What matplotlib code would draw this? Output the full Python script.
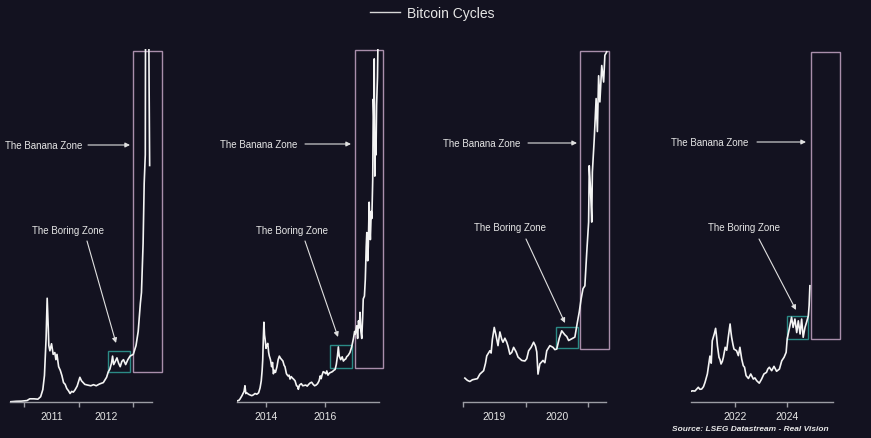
import matplotlib.pyplot as plt
from matplotlib.patches import Rectangle

plt.rcParams['font.family'] = ['Liberation Sans', 'DejaVu Sans']

# ---- data (decimal year, USD) ----
p1_years = [2010.74, 2010.85, 2010.95, 2011.05, 2011.10, 2011.18, 2011.25, 2011.30, 2011.34, 2011.37,
            2011.40, 2011.42, 2011.44, 2011.45, 2011.47, 2011.50, 2011.53, 2011.56, 2011.58, 2011.60,
            2011.63, 2011.66, 2011.69, 2011.72, 2011.75, 2011.78, 2011.81, 2011.84, 2011.87, 2011.90,
            2011.93, 2011.97, 2012.02, 2012.05, 2012.08, 2012.11, 2012.16, 2012.22, 2012.27, 2012.32,
            2012.38, 2012.45, 2012.49, 2012.51, 2012.54, 2012.57, 2012.60, 2012.62, 2012.64, 2012.67,
            2012.70, 2012.73, 2012.76, 2012.79, 2012.82, 2012.86, 2012.90, 2012.94, 2013.00, 2013.05,
            2013.09, 2013.13, 2013.15, 2013.18, 2013.20, 2013.22, 2013.23, 2013.25, 2013.27, 2013.29,
            2013.30]
p1_prices = [0.06, 0.2, 0.25, 0.4, 0.9, 0.9, 0.8, 1.5, 3.5, 7.5,
             18, 29.4, 21, 16, 14.5, 16.5, 13.5, 14, 12, 13.5,
             10, 9, 7.5, 5.5, 5, 3.8, 3.2, 2.4, 3.0, 2.8,
             3.4, 4.5, 7, 6.0, 5.5, 5, 4.8, 4.6, 4.9, 4.6,
             5.1, 5.5, 6.5, 7, 8.5, 9.3, 11, 13, 10.6, 11.5,
             12.5, 11, 10, 11.5, 12, 10.6, 12, 13, 13.5, 16,
             20, 28, 31, 45, 62, 70, 150, 120, 150, 90,
             67]

p2_years = [2013.04, 2013.10, 2013.13, 2013.20, 2013.27, 2013.30, 2013.33, 2013.36, 2013.42, 2013.47,
            2013.53, 2013.58, 2013.64, 2013.70, 2013.76, 2013.81, 2013.85, 2013.88, 2013.90, 2013.92,
            2013.94, 2013.96, 2013.98, 2014.01, 2014.03, 2014.07, 2014.10, 2014.12, 2014.16, 2014.20,
            2014.23, 2014.26, 2014.29, 2014.33, 2014.38, 2014.42, 2014.46, 2014.50, 2014.54, 2014.58,
            2014.62, 2014.65, 2014.70, 2014.75, 2014.79, 2014.82, 2014.86, 2014.90, 2014.95, 2014.99,
            2015.04, 2015.08, 2015.10, 2015.14, 2015.20, 2015.25, 2015.30, 2015.35, 2015.40, 2015.45,
            2015.50, 2015.55, 2015.60, 2015.65, 2015.70, 2015.75, 2015.80, 2015.84, 2015.87, 2015.90,
            2015.94, 2015.98, 2016.03, 2016.06, 2016.10, 2016.15, 2016.20, 2016.25, 2016.30, 2016.34,
            2016.38, 2016.42, 2016.45, 2016.48, 2016.53, 2016.58, 2016.62, 2016.66, 2016.70, 2016.73,
            2016.78, 2016.84, 2016.90, 2016.96, 2017.00, 2017.02, 2017.07, 2017.10, 2017.13, 2017.16,
            2017.18, 2017.21, 2017.24, 2017.27, 2017.29, 2017.33, 2017.36, 2017.39, 2017.41, 2017.44,
            2017.46, 2017.49, 2017.51, 2017.53, 2017.56, 2017.58, 2017.61, 2017.63, 2017.65, 2017.66,
            2017.68, 2017.70, 2017.72, 2017.74, 2017.77, 2017.80]
p2_prices = [15, 25, 40, 90, 150, 230, 120, 130, 110, 100,
             90, 100, 120, 110, 130, 200, 300, 450, 600, 900,
             1130, 950, 890, 760, 800, 830, 700, 655, 600, 500,
             560, 400, 450, 420, 500, 600, 650, 620, 600, 580,
             520, 500, 400, 370, 380, 325, 360, 340, 320, 300,
             230, 220, 180, 240, 260, 230, 235, 240, 225, 250,
             270, 280, 250, 230, 240, 260, 300, 370, 330, 380,
             430, 420, 400, 440, 380, 410, 420, 430, 450, 460,
             530, 650, 780, 650, 600, 640, 580, 600, 610, 640,
             660, 700, 780, 900, 1000, 960, 1080, 900, 1150, 1050,
             1270, 1000, 900, 1200, 1460, 1500, 1740, 2200, 2400, 2000,
             2200, 2830, 2500, 2300, 2700, 2600, 3160, 4290, 4000, 4860,
             3200, 3800, 3500, 4200, 4600, 5500]

p3_years = [2019.03, 2019.07, 2019.11, 2019.15, 2019.19, 2019.23, 2019.27, 2019.33, 2019.36, 2019.38,
            2019.43, 2019.45, 2019.47, 2019.50, 2019.53, 2019.56, 2019.59, 2019.62, 2019.64, 2019.67,
            2019.70, 2019.72, 2019.75, 2019.78, 2019.81, 2019.85, 2019.88, 2019.91, 2019.94, 2019.99,
            2020.02, 2020.05, 2020.09, 2020.13, 2020.16, 2020.18, 2020.20, 2020.23, 2020.28, 2020.31,
            2020.34, 2020.39, 2020.44, 2020.47, 2020.50, 2020.54, 2020.58, 2020.63, 2020.66, 2020.69,
            2020.74, 2020.79, 2020.83, 2020.86, 2020.89, 2020.92, 2020.95, 2020.98, 2021.01, 2021.02,
            2021.04, 2021.06, 2021.07, 2021.10, 2021.13, 2021.15, 2021.17, 2021.19, 2021.22, 2021.25,
            2021.27, 2021.30]
p3_prices = [4200, 3800, 3600, 3900, 4000, 4100, 4900, 5500, 6800, 8100,
             9000, 8600, 11000, 13100, 11600, 9900, 12300, 11000, 10500, 11200,
             10500, 9800, 8400, 8700, 9600, 8800, 7900, 7600, 7300, 7200,
             7600, 9000, 9600, 10500, 9800, 8800, 4900, 6700, 7300, 6900,
             9000, 9900, 9600, 9200, 9300, 11200, 12500, 11800, 11500, 10800,
             11100, 11400, 14000, 15800, 18100, 19900, 20400, 26300, 31600, 41500,
             37400, 31600, 40400, 46200, 53300, 47500, 57300, 52700, 59100, 56200,
             60900, 61500]

p4_years = [2020.30, 2020.35, 2020.45, 2020.58, 2020.64, 2020.71, 2020.78, 2020.84, 2020.93, 2021.03,
            2021.08, 2021.12, 2021.20, 2021.25, 2021.29, 2021.32, 2021.38, 2021.42, 2021.46, 2021.51,
            2021.55, 2021.62, 2021.68, 2021.74, 2021.81, 2021.84, 2021.87, 2021.92, 2021.96, 2022.06,
            2022.13, 2022.19, 2022.26, 2022.32, 2022.37, 2022.43, 2022.52, 2022.61, 2022.71, 2022.77,
            2022.84, 2022.94, 2023.03, 2023.12, 2023.22, 2023.27, 2023.33, 2023.42, 2023.51, 2023.61,
            2023.72, 2023.81, 2023.90, 2023.98, 2024.02, 2024.10, 2024.19, 2024.25, 2024.32, 2024.39,
            2024.45, 2024.52, 2024.58, 2024.64, 2024.71, 2024.77, 2024.84, 2024.87, 2024.90]
p4_prices = [9100, 9500, 9300, 12500, 10800, 11000, 13000, 16700, 23800, 39000,
             33000, 52000, 58000, 62600, 55000, 47800, 38000, 36000, 32300, 34500,
             38000, 46500, 44000, 55000, 66300, 60000, 55000, 49000, 45000, 43600,
             39400, 46500, 36500, 30900, 29500, 22400, 20000, 23800, 19500, 20500,
             18100, 16000, 19500, 23800, 25200, 28000, 29500, 26600, 30300, 26100,
             28000, 35000, 38000, 42200, 53500, 62000, 72000, 63400, 70500, 59000,
             69000, 57800, 70500, 55000, 63400, 67700, 73300, 82000, 98800]

# zone boxes: (year start, year end, price low, price high)
boring_boxes = [(2012.536, 2012.94, 8.5, 14.4),
                (2016.17, 2016.91, 482, 807),
                (2020.488, 2020.84, 9480, 13170),
                (2024.013, 2024.826, 53540, 73090)]
banana_boxes = [(2012.995, 2013.527, 8.5, 99.4),
                (2017.01, 2017.956, 482, 4986),
                (2020.872, 2021.336, 9310, 61650),
                (2024.942, 2026.065, 53540, 297450)]

# ---- layout ----
W, H = 871, 439
BG = '#131220'
LINE = '#f4f4f4'
TXT = '#e6e6e6'
AXC = '#9c9ca4'

# pixel left/right, xlim, axis-line end, y top, major ticks/labels, minor (mid-year) labels
panels = [
    dict(px=(10, 163), xlim=(2010.738, 2013.545), end=2013.34, ymax=100,
         major=[2011, 2012, 2013], major_lbl=None, minor=[2011.5, 2012.5], minor_lbl=['2011', '2012']),
    dict(px=(237, 384), xlim=(2013.032, 2017.990), end=2017.83, ymax=5000,
         major=[2014, 2016], major_lbl=['2014', '2016'], minor=[], minor_lbl=[]),
    dict(px=(463, 610), xlim=(2019.0, 2021.352), end=2021.288, ymax=62000,
         major=[2019, 2020, 2021], major_lbl=None, minor=[2019.5, 2020.5], minor_lbl=['2019', '2020']),
    dict(px=(691, 841), xlim=(2020.297, 2026.104), end=2025.794, ymax=300000,
         major=[2022, 2024], major_lbl=['2022', '2024'], minor=[], minor_lbl=[]),
]
series = [(p1_years, p1_prices), (p2_years, p2_prices), (p3_years, p3_prices), (p4_years, p4_prices)]

fig = plt.figure(figsize=(W / 100, H / 100), dpi=100, facecolor=BG)

y_top, y_bot = 50, 403
handle = None
for i, (cfg, (xs, ys)) in enumerate(zip(panels, series)):
    L, R = cfg['px']
    ax = fig.add_axes([L / W, 1 - y_bot / H, (R - L) / W, (y_bot - y_top) / H])
    ax.set_facecolor('none')
    ln, = ax.plot(xs, ys, color=LINE, lw=1.2, label='Bitcoin Cycles')
    if handle is None:
        handle = ln
    ax.set_xlim(*cfg['xlim'])
    ax.set_ylim(0, cfg['ymax'])

    for sp in ['left', 'top', 'right']:
        ax.spines[sp].set_visible(False)
    ax.spines['bottom'].set_color(AXC)
    ax.spines['bottom'].set_linewidth(1.0)
    ax.spines['bottom'].set_bounds(cfg['xlim'][0], cfg['end'])
    ax.set_yticks([])

    ax.set_xticks(cfg['major'])
    if cfg['major_lbl']:
        ax.set_xticklabels(cfg['major_lbl'])
    else:
        ax.set_xticklabels([])
    ax.set_xticks(cfg['minor'], minor=True)
    ax.set_xticklabels(cfg['minor_lbl'], minor=True)
    ax.tick_params(axis='x', which='major', length=3.5, width=1, color=AXC, pad=3,
                   labelsize=7.5, labelcolor=TXT)
    ax.tick_params(axis='x', which='minor', length=0, pad=6.5, labelsize=7.5, labelcolor=TXT)

    x0, x1, lo, hi = boring_boxes[i]
    ax.add_patch(Rectangle((x0, lo), x1 - x0, hi - lo, fill=False, ec='#2b8a86', lw=1.0, clip_on=False))
    x0, x1, lo, hi = banana_boxes[i]
    ax.add_patch(Rectangle((x0, lo), x1 - x0, hi - lo, fill=False, ec='#a98eab', lw=1.0, clip_on=False))

# ---- annotations (figure pixel positions, y measured from top) ----
banana_txt = [(44, 146), (259, 145), (482, 144), (710, 143)]
banana_arr = [((88, 146), (130, 146)), ((305, 145), (351, 145)),
              ((528, 144), (577, 144)), ((757, 143), (806, 143))]
boring_txt = [(68, 231), (292, 231), (510, 228), (744, 228)]
boring_arr = [((87, 242), (116, 344)), ((305, 242), (338, 338)),
              ((526, 240), (565, 324)), ((759, 240), (796, 311))]

ap = dict(arrowstyle='-|>', color='#e0e0e0', lw=0.8, mutation_scale=7, shrinkA=0, shrinkB=0)
for (tx, ty) in banana_txt:
    fig.text(tx / W, 1 - ty / H, 'The Banana Zone', color=TXT, fontsize=7, ha='center', va='center')
for (tx, ty) in boring_txt:
    fig.text(tx / W, 1 - ty / H, 'The Boring Zone', color=TXT, fontsize=7, ha='center', va='center')
for (s, e) in banana_arr + boring_arr:
    fig.add_artist(plt.Annotation('', xy=(e[0], H - e[1]), xytext=(s[0], H - s[1]),
                                  xycoords='figure pixels', textcoords='figure pixels', arrowprops=ap))

leg = fig.legend(handles=[handle], loc='center', bbox_to_anchor=(432 / W, 1 - 14 / H),
                 frameon=False, fontsize=10, handlelength=2.2, handletextpad=0.45)
for t in leg.get_texts():
    t.set_color(TXT)
for lh in leg.get_lines():
    lh.set_linewidth(1.0)
    lh.set_color('#d8d8d8')

fig.text(750 / W, 1 - 430 / H, 'Source: LSEG Datastream - Real Vision', color=TXT,
         fontsize=6, fontstyle='italic', fontweight='bold', ha='center', va='center')

fig.savefig('out.png', dpi=100, facecolor=BG)
